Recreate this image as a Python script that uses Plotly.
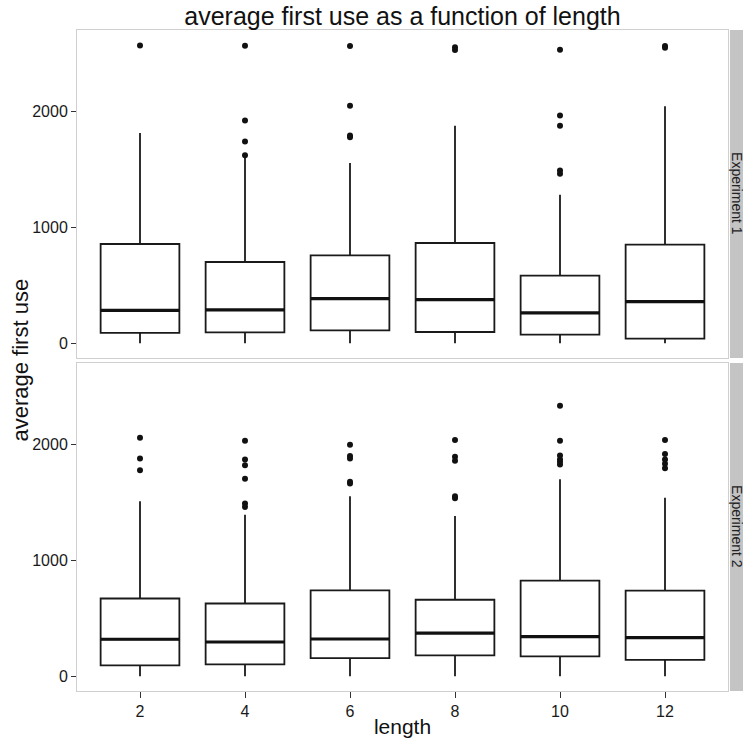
import plotly.graph_objects as go

lengths = ["2", "4", "6", "8", "10", "12"]
experiments = ["Experiment 1", "Experiment 2"]

# Experiment 1 box statistics
e1_low = [0, 0, 0, 0, 0, 0]
e1_q1 = [88, 93, 110, 96, 73, 39]
e1_med = [283, 286, 383, 375, 260, 357]
e1_q3 = [854, 699, 756, 863, 581, 848]
e1_high = [1810, 1595, 1552, 1873, 1279, 2040]
e1_out = [
    [2565],
    [2562, 1919, 1738, 1618],
    [2560, 2046, 1790, 1775],
    [2550, 2525],
    [2528, 1962, 1873, 1488, 1460],
    [2560, 2545],
]

# Experiment 2 box statistics
e2_low = [0, 0, 0, 0, 0, 0]
e2_q1 = [93, 101, 156, 179, 170, 141]
e2_med = [318, 294, 320, 370, 340, 332]
e2_q3 = [669, 626, 739, 658, 823, 736]
e2_high = [1506, 1391, 1550, 1379, 1697, 1538]
e2_out = [
    [2055, 1876, 1775],
    [2029, 1867, 1818, 1700, 1487, 1457],
    [1994, 1896, 1876, 1674, 1660],
    [2035, 1890, 1856, 1550, 1533],
    [2329, 2029, 1902, 1867, 1847, 1824],
    [2035, 1913, 1867, 1830, 1792],
]

BOX_W = 0.75
FONT = "Liberation Sans, Arial, sans-serif"

fig = go.Figure()

panels = [
    ("y", e1_low, e1_q1, e1_med, e1_q3, e1_high, e1_out),
    ("y2", e2_low, e2_q1, e2_med, e2_q3, e2_high, e2_out),
]

pos = list(range(1, len(lengths) + 1))

for yax, low, q1, med, q3, high, outs in panels:
    xax = "x" if yax == "y" else "x2"
    fig.add_trace(go.Box(
        x=pos, q1=q1, median=med, q3=q3, lowerfence=low, upperfence=high,
        width=BOX_W, whiskerwidth=0, fillcolor="white",
        line=dict(color="#1a1a1a", width=1.8),
        boxpoints=False, xaxis=xax, yaxis=yax, showlegend=False,
        hoverinfo="skip",
    ))
    # thicker median lines
    mx, my = [], []
    for p, m in zip(pos, med):
        mx += [p - BOX_W / 2, p + BOX_W / 2, None]
        my += [m, m, None]
    fig.add_trace(go.Scatter(
        x=mx, y=my, mode="lines", line=dict(color="#111", width=3.2),
        xaxis=xax, yaxis=yax, showlegend=False, hoverinfo="skip",
    ))
    # outliers
    ox, oy = [], []
    for p, o in zip(pos, outs):
        ox += [p] * len(o)
        oy += o
    fig.add_trace(go.Scatter(
        x=ox, y=oy, mode="markers",
        marker=dict(color="#111", size=6),
        xaxis=xax, yaxis=yax, showlegend=False, hoverinfo="skip",
    ))

ymin, ymax = -128, 2698
yaxis_common = dict(
    range=[ymin, ymax], tickvals=[0, 1000, 2000], ticks="outside", ticklen=5,
    tickcolor="#333", tickwidth=1.3, showgrid=False, zeroline=False,
    showline=True, linecolor="#cfcfcf", linewidth=1, mirror=True,
    tickfont=dict(family=FONT, size=16, color="#1a1a1a"), automargin=False,
)
xaxis_common = dict(
    range=[0.4, 6.6], tickvals=pos, ticktext=lengths, ticks="outside",
    ticklen=6, tickcolor="#333", tickwidth=1.3, showgrid=False,
    zeroline=False, showline=True, linecolor="#cfcfcf", linewidth=1,
    mirror=True, tickfont=dict(family=FONT, size=16, color="#1a1a1a"),
    automargin=False,
)

H = 738
top_m, bot_m = 30, 47
ph = H - top_m - bot_m
d_bot = [0, 328 / ph]
d_top = [333 / ph, 1]

fig.update_layout(
    width=743, height=738,
    margin=dict(l=77, r=15, t=top_m, b=bot_m, autoexpand=False),
    paper_bgcolor="white", plot_bgcolor="white",
    font=dict(family=FONT, color="#111"),
    title=dict(text="average first use as a function of length",
               x=402.5 / 743, xanchor="center", y=1 - 16 / 738,
               yanchor="middle", font=dict(family=FONT, size=25, color="#111")),
    xaxis=dict(xaxis_common, anchor="y", showticklabels=False, ticks="",
               matches="x2"),
    yaxis=dict(yaxis_common, domain=d_top, anchor="x"),
    xaxis2=dict(xaxis_common, anchor="y2", ticklabelstandoff=0,
                title=dict(text="length", standoff=5,
                           font=dict(family=FONT, size=21, color="#111"))),
    yaxis2=dict(yaxis_common, domain=d_bot, anchor="x2"),
)

# facet strips on the right
for name, dom in zip(experiments, [d_top, d_bot]):
    fig.add_shape(type="rect", xref="paper", yref="paper",
                  x0=1.003, x1=1.05, y0=dom[0], y1=dom[1],
                  fillcolor="#c4c4c4", line=dict(width=0), layer="below")
    fig.add_annotation(text=name, xref="paper", yref="paper",
                       x=1.003 + 7 / 651, y=(dom[0] + dom[1]) / 2,
                       xanchor="center", yanchor="middle", textangle=90,
                       showarrow=False,
                       font=dict(family=FONT, size=14, color="#222"))

# shared y-axis title
fig.add_annotation(text="average first use", xref="paper", yref="paper",
                   x=-57 / 651, y=0.5, xanchor="center", yanchor="middle",
                   textangle=-90, showarrow=False,
                   font=dict(family=FONT, size=22, color="#111"))

fig.write_html("out.html")
